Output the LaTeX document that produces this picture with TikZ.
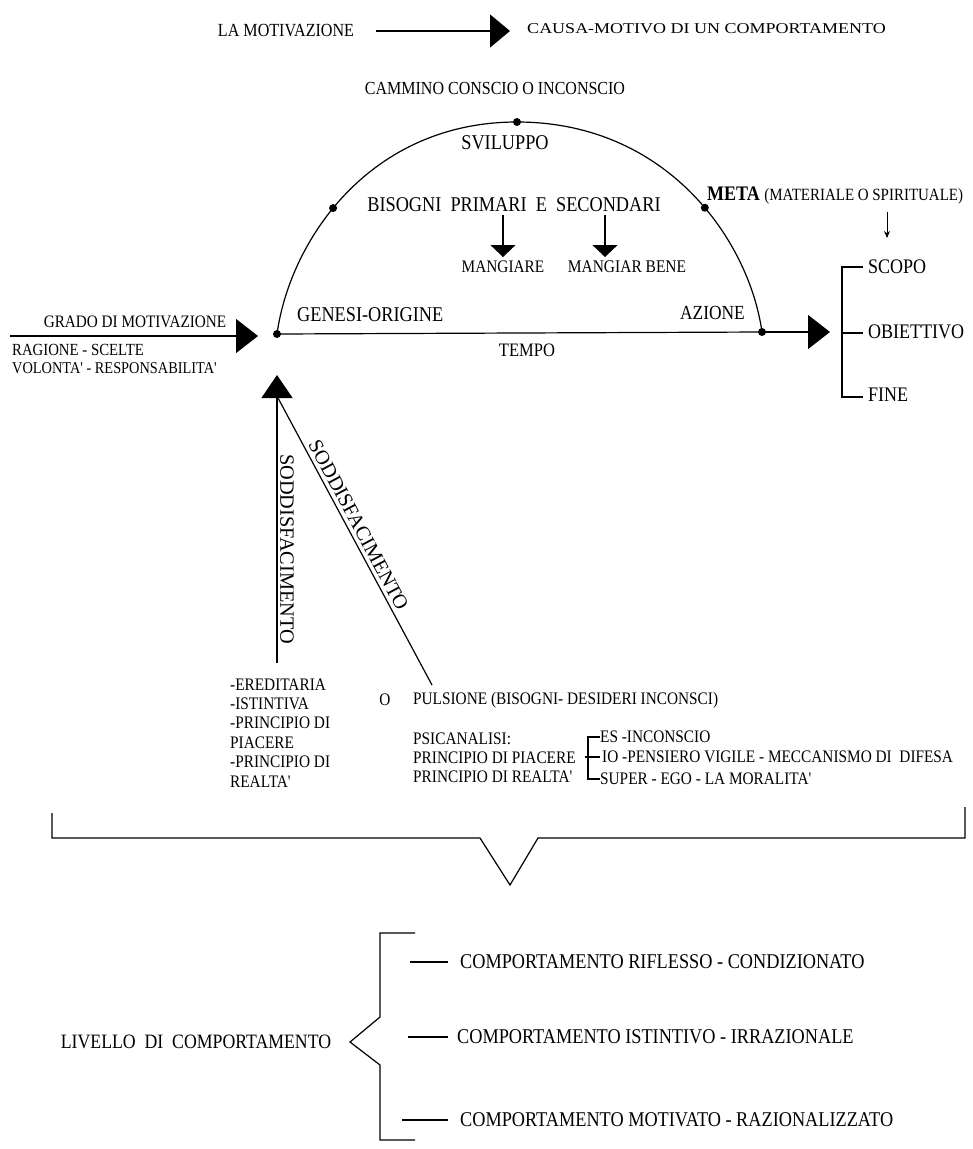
\documentclass[tikz,border=0pt]{standalone}
\usepackage{fontspec}
\setmainfont{Liberation Serif}[Ligatures=TeXOff]
\usetikzlibrary{arrows.meta}
\newcommand{\fsz}[1]{\fontsize{#1}{#1}\selectfont}
\begin{document}
\begin{tikzpicture}[x=1pt,y=-1pt,
  txt/.style={inner sep=0pt, xscale=0.87},
  ln/.style={line width=1.2pt},
  dotmark/.style={circle, fill, inner sep=0pt, minimum size=8pt},
  headtop/.style={-{Triangle[length=20pt,width=33pt]}},
  headbig/.style={-{Triangle[length=22pt,width=34pt]}},
  headup/.style={-{Triangle[length=23pt,width=31pt]}},
  headsmall/.style={-{Triangle[length=12pt,width=25pt]}},
  headthin/.style={-{Stealth[length=7pt,width=6pt]}},
]
\useasboundingbox (0,0) rectangle (973,1149);

% --- title row
\node[txt, font=\fsz{18.5}] (lamot) at (286,31) {LA MOTIVAZIONE};
\coordinate (t1) at (376,31);
\coordinate (t2) at (510,31);
\draw[ln, headtop] (t1) -- (t2);
\node[inner sep=0pt, xscale=1.2, font=\fsz{15}, anchor=west] (causa) at (527,29) {CAUSA-MOTIVO DI UN COMPORTAMENTO};

\node[txt, font=\fsz{18.4}] (cammino) at (495,88) {CAMMINO CONSCIO O INCONSCIO};

% --- the arc of development
\node[dotmark] (gen) at (277,334) {};
\node[dotmark] (top) at (517,122) {};
\node[dotmark] (az) at (762,332) {};
\draw[ln] (gen.center) .. controls (290,240) and (370,122) .. (top.center)
  node[pos=0.44, dotmark] (dl) {}
  .. controls (667,122) and (749,240) .. (az.center)
  node[pos=0.56, dotmark] (dr) {};
\draw[ln] (gen.center) -- (az.center);
\coordinate (aztip) at (830,332);
\draw[ln, headbig] (az.center) -- (aztip);

\node[txt, font=\fsz{21}] (svil) at (505,143) {SVILUPPO};
\node[txt, font=\fsz{21}] (bis) at (514,205) {BISOGNI\ \ PRIMARI\ \ E\ \ SECONDARI};
\node[txt, font=\fsz{17.6}] (mang) at (503,267) {MANGIARE};
\node[txt, font=\fsz{17.8}] (mangb) at (627,267) {MANGIAR BENE};
\coordinate (m1a) at (503,215); \coordinate (m1b) at (503,257);
\coordinate (m2a) at (605,215); \coordinate (m2b) at (605,257);
\draw[ln, headsmall] (m1a) -- (m1b);
\draw[ln, headsmall] (m2a) -- (m2b);

\node[txt, font=\fsz{21}, anchor=west] (genesi) at (297,315) {GENESI-ORIGINE};
\node[txt, font=\fsz{20}, anchor=east] (azione) at (745,313) {AZIONE};
\node[txt, font=\fsz{19}] (tempo) at (527,350) {TEMPO};

% --- goal
\node[txt, anchor=west] (meta) at (707,195)
  {\fsz{20.7}\bfseries META \fsz{17.2}\mdseries (MATERIALE O SPIRITUALE)};
\coordinate (ma) at (887,212); \coordinate (mb) at (887,238);
\draw[line width=0.9pt, headthin] (ma) -- (mb);
\draw[ln] (863,267) -- (842,267) -- (842,397) -- (863,397);
\draw[ln] (842,333) -- (863,333);
\node[txt, font=\fsz{20.7}, anchor=west] (scopo) at (868,267) {SCOPO};
\node[txt, font=\fsz{20.7}, anchor=west] (obiet) at (868,332) {OBIETTIVO};
\node[txt, font=\fsz{20.7}, anchor=west] (fine) at (868,395) {FINE};

% --- degree of motivation
\node[txt, font=\fsz{17.5}] (grado) at (135,322) {GRADO DI MOTIVAZIONE};
\coordinate (g1) at (10,336); \coordinate (g2) at (258,336);
\draw[ln, headbig] (g1) -- (g2);
\node[txt, font=\fsz{17}, anchor=west] (rag) at (12,350) {RAGIONE - SCELTE};
\node[txt, font=\fsz{16.5}, anchor=west] (vol) at (12,368) {VOLONTA' - RESPONSABILITA'};

% --- satisfaction
\coordinate (utip) at (277,375);
\coordinate (ubase) at (278,398);
\coordinate (vbot) at (277,663);
\coordinate (dbot) at (432,685);
\draw[ln, headup] (vbot) -- (utip);
\draw[ln] (dbot) -- (ubase);
\path (277,398) -- (vbot) node[sloped, pos=0.57, above=3pt, inner sep=0pt, font=\fsz{20.3}] (sodv) {SODDISFACIMENTO};
\path (ubase) -- (dbot) node[sloped, pos=0.46, above=4pt, inner sep=0pt, font=\fsz{20.3}] (sodd) {SODDISFACIMENTO};

\foreach \t/\yy [count=\i] in {-EREDITARIA/685, -ISTINTIVA/704, -PRINCIPIO DI/723, PIACERE/743, -PRINCIPIO DI/762, REALTA'/782}
  \node[txt, font=\fsz{17.6}, anchor=west] (her\i) at (230,\yy) {\t};

\node[txt, font=\fsz{17.6}] (oo) at (385,700) {O};
\node[txt, font=\fsz{17.6}, anchor=west] (puls) at (413,700) {PULSIONE (BISOGNI- DESIDERI INCONSCI)};
\node[txt, font=\fsz{17.6}, anchor=west] (psi1) at (413,739) {PSICANALISI:};
\node[txt, font=\fsz{17.6}, anchor=west] (psi2) at (413,758) {PRINCIPIO DI PIACERE};
\node[txt, font=\fsz{17.6}, anchor=west] (psi3) at (413,777) {PRINCIPIO DI REALTA'};

\draw[ln] (600,737) -- (588,737) -- (588,779) -- (600,779);
\draw[ln] (585,757) -- (600,757);
\node[txt, font=\fsz{17.6}, anchor=west] (es) at (600,737) {ES -INCONSCIO};
\node[txt, font=\fsz{17.6}, anchor=west] (io) at (602,757) {IO -PENSIERO VIGILE - MECCANISMO DI\ \ DIFESA};
\node[txt, font=\fsz{17.6}, anchor=west] (sup) at (600,779) {SUPER - EGO - LA MORALITA'};

% --- gathering bracket
\draw[ln] (52,813) -- (52,838) -- (480,838) -- (510,885) -- (538,838) -- (965,838) -- (965,807);

% --- levels of behaviour
\draw[ln] (415,933) -- (380,933) -- (380,1017) -- (350,1042) -- (380,1065) -- (380,1140) -- (415,1140);
\node[txt, font=\fsz{20.4}] (liv) at (196,1042) {LIVELLO\ \ DI\ \ COMPORTAMENTO};
\draw[ln] (410,962) -- (448,962);
\draw[ln] (408,1037) -- (448,1037);
\draw[ln] (402,1120) -- (448,1120);
\node[txt, font=\fsz{21}, anchor=west] (c1) at (460,962) {COMPORTAMENTO RIFLESSO - CONDIZIONATO};
\node[txt, font=\fsz{21}, anchor=west] (c2) at (457,1037) {COMPORTAMENTO ISTINTIVO - IRRAZIONALE};
\node[txt, font=\fsz{21}, anchor=west] (c3) at (460,1120) {COMPORTAMENTO MOTIVATO - RAZIONALIZZATO};
\end{tikzpicture}
\end{document}
